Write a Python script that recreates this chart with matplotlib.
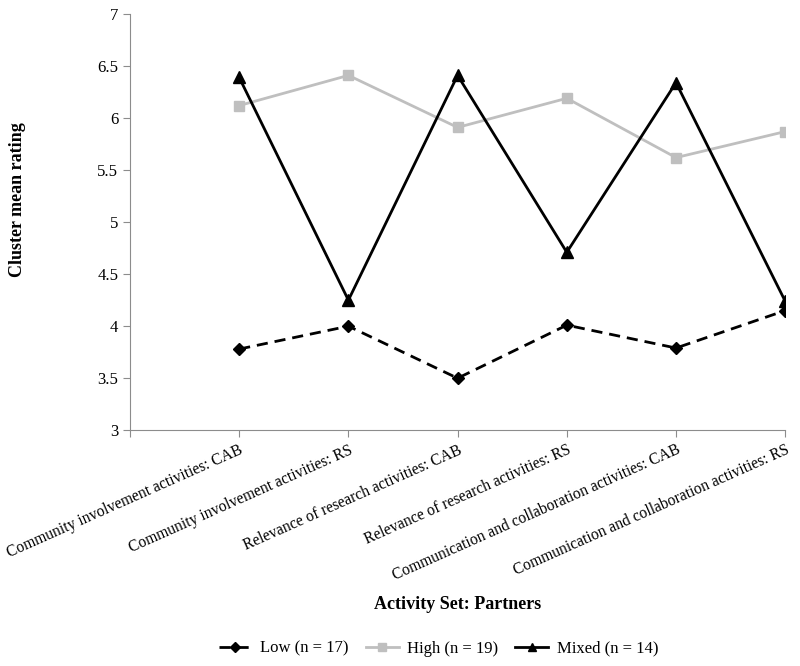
import matplotlib
matplotlib.use("Agg")
import matplotlib.pyplot as plt

categories = ["Community involvement activities: CAB",
              "Community involvement activities: RS",
              "Relevance of research activities: CAB",
              "Relevance of research activities: RS",
              "Communication and collaboration activities: CAB",
              "Communication and collaboration activities: RS"]
low = [3.78, 4.00, 3.50, 4.01, 3.79, 4.15]
high = [6.12, 6.41, 5.91, 6.19, 5.62, 5.87]
mixed = [6.39, 4.25, 6.41, 4.71, 6.34, 4.24]

plt.rcParams['font.family'] = ['Liberation Serif', 'DejaVu Serif']

fig = plt.figure(figsize=(8, 6.66), dpi=100)
ax = fig.add_axes([0.1625, 0.354, 0.819, 0.625])

x = list(range(len(categories)))
ax.plot(x, low, color="black", linestyle=(0, (4, 2.5)), linewidth=2,
        marker="D", markersize=6, label="Low (n = 17)")
ax.plot(x, high, color="#bfbfbf", linewidth=2,
        marker="s", markersize=7, label="High (n = 19)")
ax.plot(x, mixed, color="black", linewidth=2,
        marker="^", markersize=8, label="Mixed (n = 14)")

ax.set_xlim(-1, 5)
ax.set_ylim(3, 7)
ax.set_xticks([-1] + x)
ax.set_xticklabels([""] + categories, rotation=24, ha="right",
                   rotation_mode="anchor", fontsize=11.2)
ax.set_yticks([3, 3.5, 4, 4.5, 5, 5.5, 6, 6.5, 7])
ax.set_yticklabels(["3", "3.5", "4", "4.5", "5", "5.5", "6", "6.5", "7"], fontsize=12)

for s in ["top", "right"]:
    ax.spines[s].set_visible(False)
for s in ["left", "bottom"]:
    ax.spines[s].set_color("#8c8c8c")
ax.tick_params(axis="both", colors="#8c8c8c", labelcolor="black", length=5)

ax.set_ylabel("Cluster mean rating", fontsize=13, fontweight="bold")
ax.yaxis.set_label_coords(-0.158, 0.553)
fig.text(0.572, 0.085, "Activity Set: Partners", ha="center", fontsize=13, fontweight="bold")

fig.legend(loc="center", bbox_to_anchor=(0.548, 0.026), ncol=3, frameon=False,
           fontsize=12, handlelength=2.0, columnspacing=1.0, handletextpad=0.5,
           markerscale=0.8)

fig.savefig("out.png", dpi=100)
